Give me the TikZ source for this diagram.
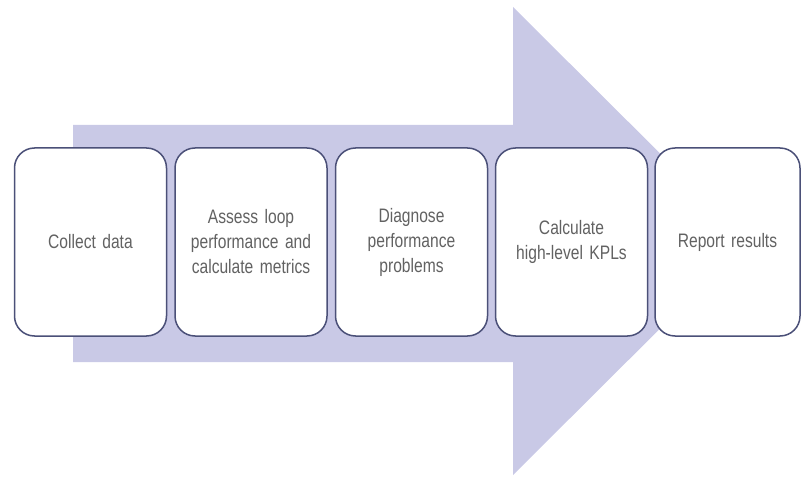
\documentclass[tikz,border=0pt]{standalone}
\usepackage{fontspec}
\setmainfont{Liberation Sans}[FakeStretch=0.8]
\definecolor{arrowfill}{HTML}{C9C9E6}
\definecolor{boxline}{HTML}{4B5078}
\definecolor{txt}{HTML}{626262}
\begin{document}
\begin{tikzpicture}[x=1pt,y=-1pt,
  stepbox/.style={draw=boxline, line width=1.5pt, fill=white, rounded corners=20pt,
    minimum width=152pt, minimum height=188pt, inner sep=0pt, align=center,
    text=txt, font=\fontsize{19.5}{25}\selectfont, text width=145pt}]
\useasboundingbox (0,0) rectangle (803,478);
\fill[arrowfill] (73,125) -- (513,125) -- (513,7) -- (748,241) -- (513,475) -- (513,362) -- (73,362) -- cycle;
\node[stepbox] (s1) at (90.5,242) {Collect data};
\node[stepbox] (s2) at (251,242) {Assess loop\\performance and\\calculate metrics};
\node[stepbox] (s3) at (411.5,242) {Diagnose\\performance\\problems};
\node[stepbox] (s4) at (571.5,242) {Calculate\\high-level KPLs};
\node[stepbox, minimum width=145pt] (s5) at (727.5,242) {Report results};
\end{tikzpicture}
\end{document}
